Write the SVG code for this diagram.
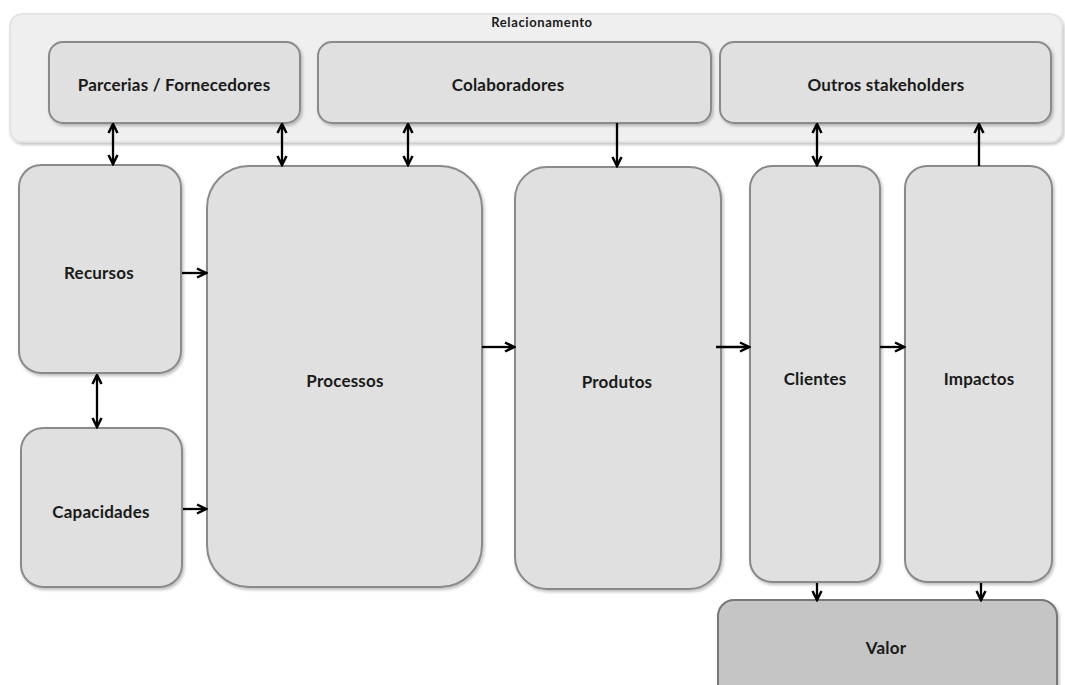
<svg xmlns="http://www.w3.org/2000/svg" width="1065" height="685" viewBox="0 0 1065 685">
<style>
.box{fill:#dfe0df;stroke:#8a8a8a;stroke-width:2}
.outer{fill:#efefef;stroke:#e0e0e0;stroke-width:1.5}
.valor{fill:#c4c5c4;stroke:#777;stroke-width:2}
.lbl{font-family:Lato,"Open Sans",sans-serif;font-weight:bold;font-size:17px;letter-spacing:0.2px;fill:#1a1a1a;text-anchor:middle;dominant-baseline:central}
.small{font-size:13px;letter-spacing:0.6px}
.c{stroke:#000;stroke-width:2.3;fill:none}
</style>
<defs>
<filter id="sh" x="-10%" y="-10%" width="120%" height="120%">
<feDropShadow dx="1.5" dy="2" stdDeviation="1.5" flood-color="#000" flood-opacity="0.25"/>
</filter>
<marker id="ah" viewBox="0 0 12 12" refX="10.5" refY="6" markerWidth="12" markerHeight="12" markerUnits="userSpaceOnUse" orient="auto-start-reverse">
<path d="M1.5,1.5 L10.5,6 L1.5,10.5" fill="none" stroke="#000" stroke-width="2.5"/>
</marker>
</defs>
<rect width="1065" height="685" fill="#fff"/>
<g id="relacionamento">
<rect class="outer" x="10" y="14" width="1052" height="128" rx="12" filter="url(#sh)"/>
<text class="lbl small" x="542" y="22">Relacionamento</text>
</g>
<g id="parcerias">
<rect class="box" x="49" y="42" width="251" height="81" rx="14" filter="url(#sh)"/>
<text class="lbl" x="174" y="84">Parcerias / Fornecedores</text>
</g>
<g id="colaboradores">
<rect class="box" x="318" y="42" width="393" height="81" rx="14" filter="url(#sh)"/>
<text class="lbl" x="508" y="84">Colaboradores</text>
</g>
<g id="outros">
<rect class="box" x="720" y="42" width="331" height="81" rx="14" filter="url(#sh)"/>
<text class="lbl" x="886" y="84">Outros stakeholders</text>
</g>
<g id="recursos">
<rect class="box" x="19" y="165" width="162" height="208" rx="22" filter="url(#sh)"/>
<text class="lbl" x="99" y="272">Recursos</text>
</g>
<g id="capacidades">
<rect class="box" x="21" y="428" width="161" height="159" rx="22" filter="url(#sh)"/>
<text class="lbl" x="101" y="511">Capacidades</text>
</g>
<g id="processos">
<rect class="box" x="207" y="166" width="275" height="421" rx="42" filter="url(#sh)"/>
<text class="lbl" x="345" y="380">Processos</text>
</g>
<g id="produtos">
<rect class="box" x="515" y="167" width="206" height="422" rx="32" filter="url(#sh)"/>
<text class="lbl" x="617" y="381">Produtos</text>
</g>
<g id="clientes">
<rect class="box" x="750" y="166" width="130" height="416" rx="22" filter="url(#sh)"/>
<text class="lbl" x="815" y="378">Clientes</text>
</g>
<g id="impactos">
<rect class="box" x="905" y="166" width="147" height="416" rx="22" filter="url(#sh)"/>
<text class="lbl" x="979" y="378">Impactos</text>
</g>
<g id="valor">
<rect class="valor" x="718" y="600" width="339" height="100" rx="16" filter="url(#sh)"/>
<text class="lbl" x="886" y="647">Valor</text>
</g>
<g id="connectors">
<line class="c" x1="113" y1="124" x2="113" y2="164" marker-start="url(#ah)" marker-end="url(#ah)"/>
<line class="c" x1="282" y1="124" x2="282" y2="165" marker-start="url(#ah)" marker-end="url(#ah)"/>
<line class="c" x1="408" y1="124" x2="408" y2="165" marker-start="url(#ah)" marker-end="url(#ah)"/>
<line class="c" x1="617" y1="123" x2="617" y2="166" marker-end="url(#ah)"/>
<line class="c" x1="817" y1="124" x2="817" y2="165" marker-start="url(#ah)" marker-end="url(#ah)"/>
<line class="c" x1="979" y1="166" x2="979" y2="124" marker-end="url(#ah)"/>
<line class="c" x1="182" y1="273" x2="206" y2="273" marker-end="url(#ah)"/>
<line class="c" x1="97" y1="375" x2="97" y2="427" marker-start="url(#ah)" marker-end="url(#ah)"/>
<line class="c" x1="183" y1="509" x2="206" y2="509" marker-end="url(#ah)"/>
<line class="c" x1="482" y1="347" x2="514" y2="347" marker-end="url(#ah)"/>
<line class="c" x1="716" y1="347" x2="749" y2="347" marker-end="url(#ah)"/>
<line class="c" x1="880" y1="347" x2="904" y2="347" marker-end="url(#ah)"/>
<line class="c" x1="817" y1="583" x2="817" y2="600" marker-end="url(#ah)"/>
<line class="c" x1="981" y1="583" x2="981" y2="600" marker-end="url(#ah)"/>
</g>
</svg>
